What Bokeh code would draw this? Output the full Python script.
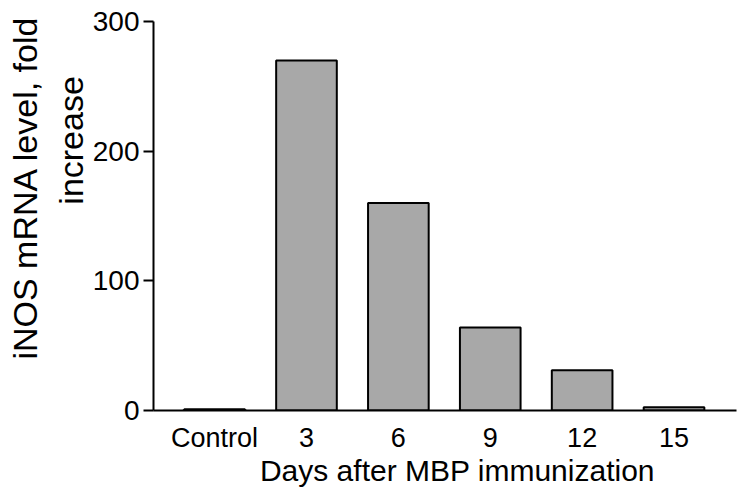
from bokeh.plotting import figure
from bokeh.models import Range1d, FixedTicker
from bokeh.embed import file_html
from bokeh.resources import INLINE

categories = ["Control", "3", "6", "9", "12", "15"]
values = [1, 270, 160, 64, 31, 2.5]
y_ticks = [0, 100, 200, 300]

xs = list(range(len(categories)))

FONT = "Liberation Sans"
NB = "\u00a0"

p = figure(frame_width=583, frame_height=389, output_backend="svg", toolbar_location=None,
           x_range=Range1d(-0.665, 5.68), y_range=Range1d(0, 300),
           min_border_left=153, min_border_right=4, min_border_top=21, min_border_bottom=0)

p.vbar(x=xs, top=values, bottom=0, width=0.66, fill_color="#a8a8a8",
       line_color="black", line_width=2)

p.grid.visible = False
p.outline_line_color = None
p.background_fill_color = "white"
p.border_fill_color = "white"

xa = p.xaxis[0]
xa.ticker = FixedTicker(ticks=xs)
xa.major_label_overrides = {i: c for i, c in zip(xs, categories)}
xa.major_tick_line_color = None
xa.minor_tick_line_color = None
xa.axis_line_color = "black"
xa.axis_line_width = 2
xa.major_label_text_font = FONT
xa.major_label_text_font_size = "27px"
xa.major_label_text_color = "black"
xa.major_label_standoff = 6
xa.axis_label = NB * 3 + "Days after MBP immunization"
xa.axis_label_text_font = FONT
xa.axis_label_text_font_size = "30px"
xa.axis_label_text_font_style = "normal"
xa.axis_label_text_color = "black"
xa.axis_label_standoff = -2

ya = p.yaxis[0]
ya.ticker = FixedTicker(ticks=y_ticks)
ya.minor_tick_line_color = None
ya.major_tick_in = 0
ya.major_tick_out = 10
ya.major_tick_line_width = 2
ya.axis_line_width = 2
ya.axis_line_color = "black"
ya.major_label_text_font = FONT
ya.major_label_text_font_size = "28px"
ya.major_label_text_color = "black"
ya.major_label_standoff = 4
ya.axis_label = NB * 6 + "iNOS mRNA level, fold\n" + NB * 16 + "increase"
ya.axis_label_text_font = FONT
ya.axis_label_text_font_size = "34px"
ya.axis_label_text_font_style = "normal"
ya.axis_label_text_color = "black"
ya.axis_label_text_align = "center"
ya.axis_label_standoff = 0

open("out.html", "w").write(file_html(p, INLINE))
